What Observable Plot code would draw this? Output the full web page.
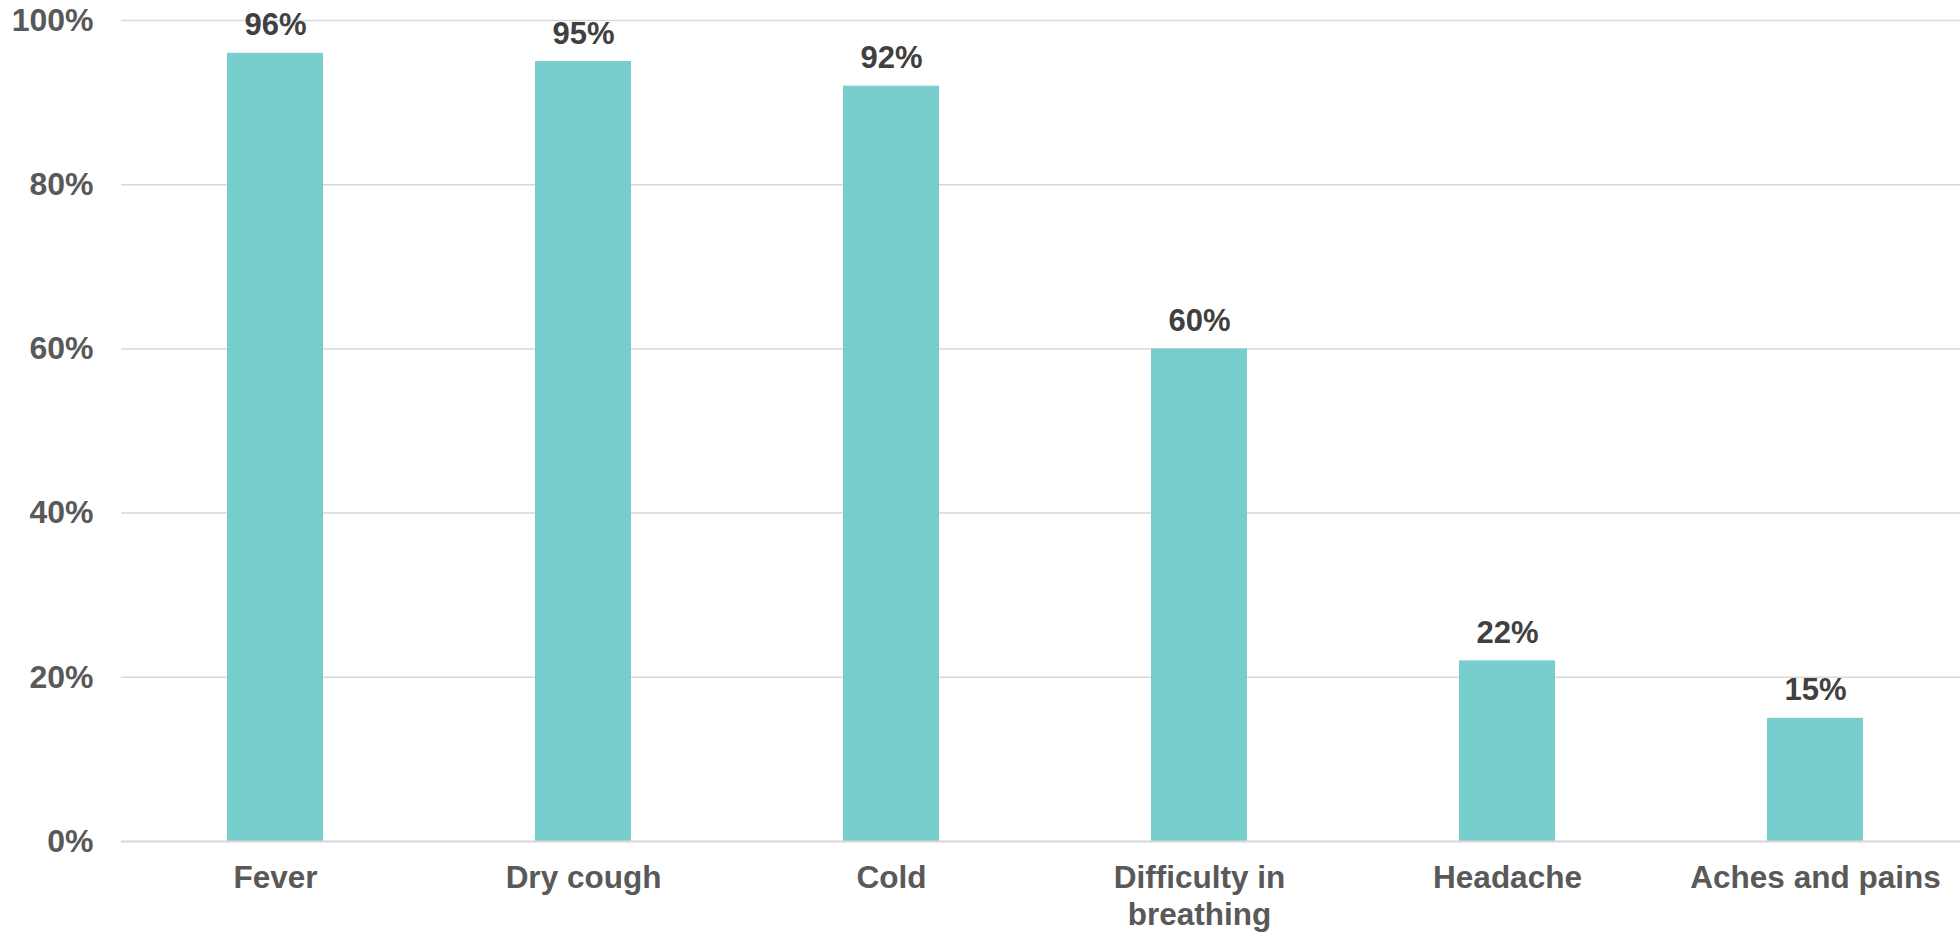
<!DOCTYPE html>
<html>
<head>
<meta charset="utf-8">
<script src="https://cdn.jsdelivr.net/npm/d3@7"></script>
<script src="https://cdn.jsdelivr.net/npm/@observablehq/plot@0.6"></script>
<style>
  html, body { margin: 0; padding: 0; background: #ffffff; }
  #chart { width: 1960px; height: 935px; }
</style>
</head>
<body>
<div id="chart"></div>
<script>
// Share of patients reporting each symptom (%)
const symptoms = ["Fever", "Dry cough", "Cold", "Difficulty in breathing", "Headache", "Aches and pains"];
const shares = [96, 95, 92, 60, 22, 15];
const symptomLabels = ["Fever", "Dry cough", "Cold", "Difficulty in\nbreathing", "Headache", "Aches and pains"];
const yTicks = [0, 20, 40, 60, 80, 100];

const rows = symptoms.map((s, i) => ({symptom: s, share: shares[i]}));
const labelOf = new Map(symptoms.map((s, i) => [s, symptomLabels[i]]));

const font = "'Liberation Sans', Arial, sans-serif";

const chart = Plot.plot({
  width: 1960,
  height: 935,
  marginLeft: 121,
  marginRight: 0,
  marginTop: 20,
  marginBottom: 94,
  style: {fontFamily: font, background: "#ffffff"},
  // the category bands run slightly past the right edge of the frame
  x: {domain: symptoms, range: [120, 1970], paddingInner: 0.687, paddingOuter: 0.3435, align: 0.5},
  y: {domain: [0, 100]},
  marks: [
    Plot.gridY(yTicks, {stroke: "#d9d9d9", strokeOpacity: 1, strokeWidth: 1.5}),
    Plot.barY(rows, {x: "symptom", y: "share", fill: "#78cdcd"}),
    Plot.ruleY([0], {stroke: "#d9d9d9", strokeWidth: 2}),
    Plot.text(rows, {
      x: "symptom", y: "share",
      text: d => `${d.share}%`,
      lineAnchor: "bottom", dy: -18,
      fontSize: 31, fontWeight: "bold", fill: "#404040"
    }),
    Plot.axisY({
      ticks: yTicks, tickSize: 0, tickPadding: 28,
      tickFormat: d => `${d}%`,
      fontSize: 32, fontWeight: "bold", color: "#595959", label: null
    }),
    Plot.axisX({
      tickSize: 0, tickPadding: 20, lineHeight: 1.18,
      tickFormat: d => labelOf.get(d),
      fontSize: 31.5, fontWeight: "bold", color: "#595959", label: null
    })
  ]
});

document.getElementById("chart").appendChild(chart);
</script>
</body>
</html>
